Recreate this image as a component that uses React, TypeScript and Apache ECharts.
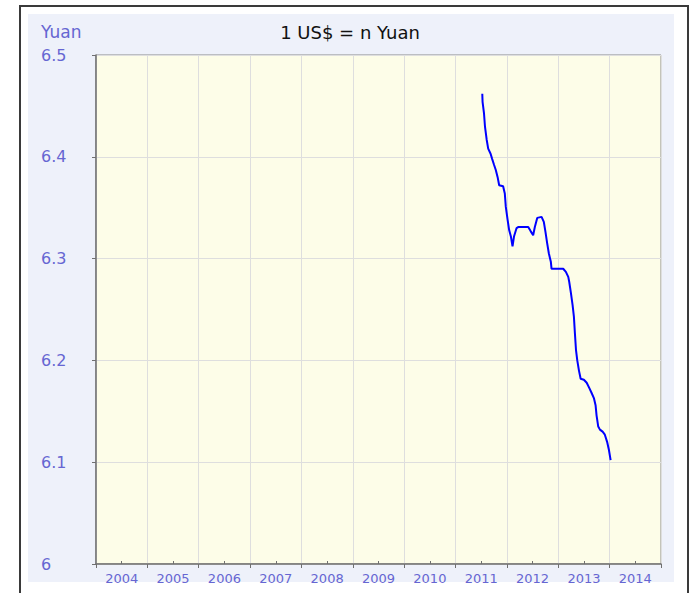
import React, { useEffect, useRef } from "react";
import * as echarts from "echarts";

const yearLabels = ["2004", "2005", "2006", "2007", "2008", "2009", "2010", "2011", "2012", "2013", "2014"];
const yTicks = [6, 6.1, 6.2, 6.3, 6.4, 6.5];

const rateDates = [
  "2011-07-10", "2011-07-12", "2011-07-22", "2011-07-29", "2011-08-10", "2011-08-21",
  "2011-09-07", "2011-09-18", "2011-10-02", "2011-10-14", "2011-10-27", "2011-11-07",
  "2011-12-05", "2011-12-17", "2011-12-24", "2012-01-06", "2012-01-17", "2012-01-29",
  "2012-02-10", "2012-02-21", "2012-03-10", "2012-03-21", "2012-06-01", "2012-06-18",
  "2012-07-06", "2012-07-18", "2012-08-04", "2012-09-04", "2012-09-20", "2012-10-02",
  "2012-10-14", "2012-10-26", "2012-11-09", "2012-11-14", "2013-02-05", "2013-02-24",
  "2013-03-13", "2013-03-20", "2013-04-01", "2013-04-13", "2013-04-22", "2013-04-29",
  "2013-05-07", "2013-05-16", "2013-05-28", "2013-06-09", "2013-07-02", "2013-07-22",
  "2013-08-09", "2013-08-26", "2013-09-11", "2013-09-23", "2013-09-30", "2013-10-12",
  "2013-10-24", "2013-11-12", "2013-11-28", "2013-12-14", "2013-12-27", "2014-01-08",
];
const rateValues = [
  6.462, 6.454, 6.443, 6.430, 6.417, 6.408,
  6.403, 6.398, 6.392, 6.387, 6.380, 6.372,
  6.371, 6.364, 6.351, 6.338, 6.328, 6.322,
  6.312, 6.322, 6.330, 6.331, 6.331, 6.327,
  6.323, 6.331, 6.340, 6.341, 6.336, 6.326,
  6.315, 6.305, 6.297, 6.290, 6.290, 6.287,
  6.282, 6.277, 6.266, 6.254, 6.243, 6.227,
  6.210, 6.200, 6.190, 6.182, 6.181, 6.178,
  6.173, 6.168, 6.163, 6.156, 6.146, 6.135,
  6.132, 6.130, 6.127, 6.120, 6.112, 6.102,
];

function toDecimalYear(s: string): number {
  const [y, m, d] = s.split("-").map(Number);
  const start = Date.UTC(y, 0, 1);
  const end = Date.UTC(y + 1, 0, 1);
  const t = Date.UTC(y, m - 1, d);
  return y + (t - start) / (end - start);
}

const LABEL_BLUE = "#6666d2";
const FONT = "'DejaVu Sans', Verdana, sans-serif";

export default function App() {
  const ref = useRef<HTMLDivElement>(null);
  useEffect(() => {
    if (!ref.current) return;
    const chart = echarts.init(ref.current, null, { renderer: "svg" });
    const data = rateDates.map((d, i) => [toDecimalYear(d), rateValues[i]]);
    chart.setOption({
      animation: false,
      backgroundColor: "#ffffff",
      graphic: [
        {
          type: "rect",
          z: -10,
          shape: { x: 20, y: 6, width: 668, height: 620 },
          style: { fill: "#ffffff", stroke: "#3a3a3a", lineWidth: 2 },
        },
        {
          type: "rect",
          z: -9,
          shape: { x: 28, y: 14, width: 646, height: 568 },
          style: { fill: "#eef1fa" },
        },
        {
          type: "text",
          x: 41,
          y: 32,
          style: {
            text: "Yuan",
            fill: LABEL_BLUE,
            font: `17px ${FONT}`,
            textVerticalAlign: "middle",
            textAlign: "left",
          },
        },
        {
          type: "text",
          x: 350,
          y: 32,
          style: {
            text: "1 US$ = n Yuan",
            fill: "#111111",
            font: `18px ${FONT}`,
            textVerticalAlign: "middle",
            textAlign: "center",
          },
        },
      ],
      grid: {
        left: 96,
        top: 55,
        right: 29,
        bottom: 29,
        show: true,
        backgroundColor: "#fdfde8",
        borderColor: "#8a8a8a",
        borderWidth: 1,
      },
      xAxis: [
        {
          type: "value",
          min: 2004,
          max: 2015,
          interval: 1,
          position: "bottom",
          axisLine: { show: true, onZero: false, lineStyle: { color: "#707070", width: 1.5 } },
          axisTick: { show: true, length: 4, lineStyle: { color: "#707070" } },
          axisLabel: { show: false },
          splitLine: { show: true, lineStyle: { color: "#dedede", width: 1 } },
        },
        {
          type: "category",
          data: yearLabels,
          position: "bottom",
          boundaryGap: true,
          axisLine: { show: false },
          axisTick: {
            show: true,
            alignWithLabel: true,
            inside: true,
            length: 3,
            lineStyle: { color: "#707070" },
          },
          axisLabel: {
            color: LABEL_BLUE,
            fontSize: 13,
            fontFamily: FONT,
            margin: 8,
          },
          splitLine: { show: false },
        },
      ],
      yAxis: {
        type: "value",
        min: yTicks[0],
        max: yTicks[yTicks.length - 1],
        interval: 0.1,
        axisLine: { show: true, onZero: false, lineStyle: { color: "#707070", width: 1.5 } },
        axisTick: { show: true, length: 4, lineStyle: { color: "#707070" } },
        axisLabel: {
          color: LABEL_BLUE,
          fontSize: 16,
          fontFamily: FONT,
          align: "left",
          margin: 55,
          formatter: (v: number) => (Math.abs(v - 6) < 1e-9 ? "6" : v.toFixed(1)),
        },
        splitLine: { show: true, lineStyle: { color: "#dedede", width: 1 } },
      },
      series: [
        {
          type: "line",
          xAxisIndex: 0,
          data,
          showSymbol: false,
          symbol: "none",
          lineStyle: { color: "#0000ff", width: 2 },
        },
      ],
    });
    return () => chart.dispose();
  }, []);
  return (
    <div
      ref={ref}
      style={{ position: "fixed", left: 0, top: 0, width: 690, height: 593 }}
    />
  );
}
